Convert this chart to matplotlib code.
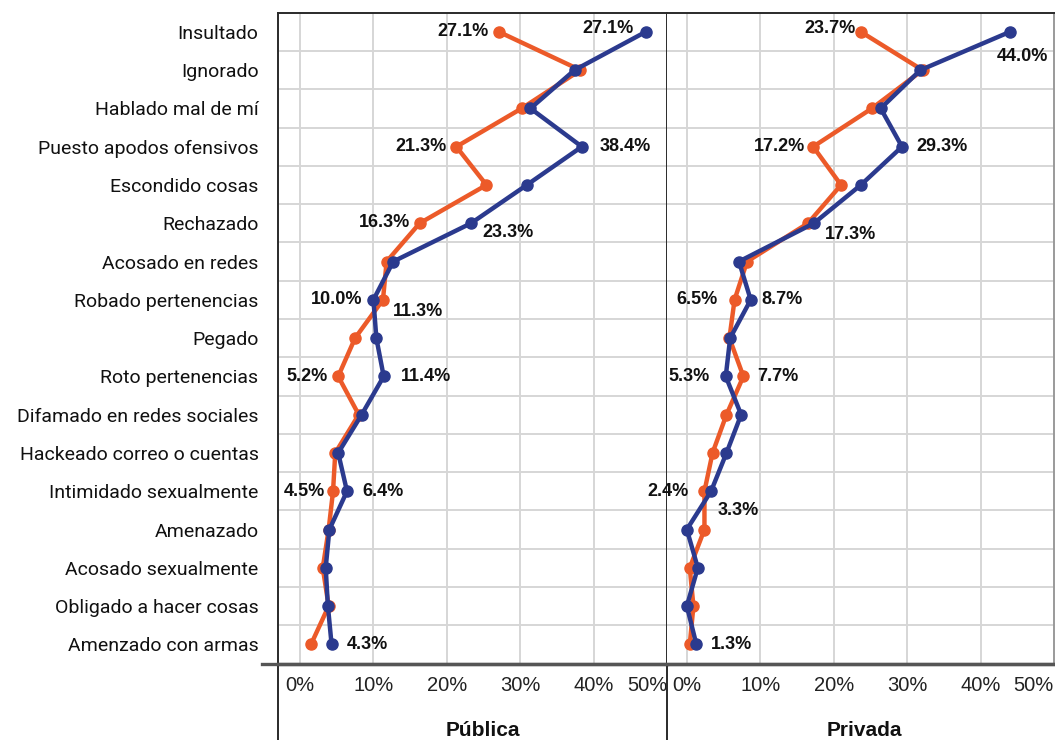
import matplotlib.pyplot as plt
from matplotlib.lines import Line2D


# Data (percent)
#--------------------------------------------------------------------------------

categories = [
    "Insultado",
    "Ignorado",
    "Hablado mal de mí",
    "Puesto apodos ofensivos",
    "Escondido cosas",
    "Rechazado",
    "Acosado en redes",
    "Robado pertenencias",
    "Pegado",
    "Roto pertenencias",
    "Difamado en redes sociales",
    "Hackeado correo o cuentas",
    "Intimidado sexualmente",
    "Amenazado",
    "Acosado sexualmente",
    "Obligado a hacer cosas",
    "Amenzado con armas",
]

publica_orange = [27.1, 38.2, 30.2, 21.3, 25.4, 16.3, 11.8, 11.3, 7.5,
                  5.2, 8.0, 4.8, 4.5, 3.9, 3.1, 3.9, 1.5]
publica_blue = [47.1, 37.4, 31.4, 38.4, 30.9, 23.3, 12.7, 10.0, 10.4,
                11.4, 8.4, 5.2, 6.4, 4.0, 3.5, 3.8, 4.3]

privada_orange = [23.7, 32.1, 25.2, 17.2, 21.0, 16.5, 8.2, 6.5, 5.8,
                  7.7, 5.4, 3.5, 2.4, 2.4, 0.4, 0.9, 0.4]
privada_blue = [44.0, 31.8, 26.4, 29.3, 23.7, 17.3, 7.1, 8.7, 5.9,
                5.3, 7.4, 5.4, 3.3, 0.0, 1.5, 0.0, 1.3]

panel_titles = ["Pública", "Privada"]

x_ticks = [0, 10, 20, 30, 40, 50]
x_tick_labels = ["0%", "10%", "20%", "30%", "40%", "50%"]

# value labels: (series, row, text)
publica_labels = [
    ("orange", 0, "27.1%"), ("blue", 0, "27.1%"),
    ("orange", 3, "21.3%"), ("blue", 3, "38.4%"),
    ("orange", 5, "16.3%"), ("blue", 5, "23.3%"),
    ("blue", 7, "10.0%"), ("orange", 7, "11.3%"),
    ("orange", 9, "5.2%"), ("blue", 9, "11.4%"),
    ("orange", 12, "4.5%"), ("blue", 12, "6.4%"),
    ("blue", 16, "4.3%"),
]
privada_labels = [
    ("orange", 0, "23.7%"), ("blue", 0, "44.0%"),
    ("orange", 3, "17.2%"), ("blue", 3, "29.3%"),
    ("blue", 5, "17.3%"),
    ("orange", 7, "6.5%"), ("blue", 7, "8.7%"),
    ("blue", 9, "5.3%"), ("orange", 9, "7.7%"),
    ("orange", 12, "2.4%"), ("blue", 12, "3.3%"),
    ("blue", 16, "1.3%"),
]

# label placement in pixels: dx, dy (down positive), horizontal alignment
publica_offsets = [
    (-10, 0, "right"), (-12, -3, "right"),
    (-10, 0, "right"), (18, 0, "left"),
    (-10, -1, "right"), (11, 9, "left"),
    (-11, 0, "right"), (10, 12, "left"),
    (-10, 0, "right"), (17, 0, "left"),
    (-8, 0, "right"), (15, 0, "left"),
    (15, 0, "left"),
]
privada_offsets = [
    (-5, -3, "right"), (12, 25, "center"),
    (-8, 0, "right"), (14, 0, "left"),
    (11, 11, "left"),
    (-17, 0, "right"), (11, 0, "left"),
    (-16, 0, "right"), (14, 0, "left"),
    (-16, 0, "right"), (7, 19, "left"),
    (15, 0, "left"),
]

ORANGE = "#EC5A29"
BLUE = "#2B3A8E"
GRID = "#D6D6D6"
DARK = "#2A2A2A"

plain_font = ["Roboto", "DejaVu Sans"]
tick_font = ["Liberation Sans", "DejaVu Sans"]
label_font = ["Liberation Sans", "DejaVu Sans"]


# Figure and axes
#--------------------------------------------------------------------------------

W, H = 1055, 740

fig = plt.figure(figsize=(W / 100, H / 100), dpi=100)

ax_top = 12.7
ax_bottom = 663.5

left_box = (278, 667)
right_box = (667, 1054)

axes = []

for x0, x1 in [left_box, right_box]:

    ax = fig.add_axes([
        x0 / W,
        (H - ax_bottom) / H,
        (x1 - x0) / W,
        (ax_bottom - ax_top) / H
    ])

    axes.append(ax)

axes[0].set_xlim(-3.0, 50)
axes[1].set_xlim(-2.7, 50)

rows = list(range(len(categories)))

panels = [
    (publica_orange, publica_blue, publica_labels, publica_offsets),
    (privada_orange, privada_blue, privada_labels, privada_offsets),
]

for p, (ax, (orange, blue, labels, offsets)) in enumerate(zip(axes, panels)):

    ax.set_ylim(len(categories) - 0.5, -0.5)

    # ----------------------------------------
    # Grid
    # ----------------------------------------

    for r in rows[:-1]:
        ax.axhline(r + 0.5, color=GRID, linewidth=1.4, zorder=0)

    for t in x_ticks[:-1]:
        ax.axvline(t, color=GRID, linewidth=1.4, zorder=0)

    # ----------------------------------------
    # Lines
    # ----------------------------------------

    ax.plot(
        orange,
        rows,
        color=ORANGE,
        linewidth=3.2,
        marker="o",
        markersize=8,
        zorder=3,
        clip_on=False
    )

    ax.plot(
        blue,
        rows,
        color=BLUE,
        linewidth=3.2,
        marker="o",
        markersize=8,
        zorder=4,
        clip_on=False
    )

    # ----------------------------------------
    # Value labels
    # ----------------------------------------

    series = {"orange": orange, "blue": blue}

    for (name, row, text), (dx, dy, ha) in zip(labels, offsets):

        ax.annotate(
            text,
            xy=(series[name][row], row),
            xytext=(dx, -dy),
            textcoords="offset pixels",
            ha=ha,
            va="center",
            fontsize=13,
            fontweight="bold",
            family=label_font,
            color="#111111",
            zorder=6,
            annotation_clip=False
        )

    # ----------------------------------------
    # Axes formatting
    # ----------------------------------------

    ax.set_xticks(x_ticks)
    ax.set_xticklabels(x_tick_labels, family=tick_font, fontsize=14.5,
                       color="#222222")
    ax.get_xticklabels()[-1].set_ha("right")
    ax.tick_params(axis="x", length=0, pad=9)

    ax.set_yticks(rows)

    if p == 0:
        ax.set_yticklabels(categories, family=plain_font, fontsize=14,
                           color="#111111")
        ax.tick_params(axis="y", length=0, pad=14)
    else:
        ax.set_yticklabels([])
        ax.tick_params(axis="y", length=0)

    for side in ["top", "left", "right"]:
        ax.spines[side].set_color(DARK)
        ax.spines[side].set_linewidth(1.4)

    ax.spines["bottom"].set_color("#555555")
    ax.spines["bottom"].set_linewidth(2.4)

axes[1].spines["right"].set_color("#9A9A9A")
axes[1].spines["left"].set_visible(False)


# Table-like frame below the panels
#--------------------------------------------------------------------------------

for x in [left_box[0], left_box[1]]:

    fig.add_artist(Line2D(
        [x / W, x / W],
        [0, (H - ax_bottom) / H],
        transform=fig.transFigure,
        color=DARK,
        linewidth=1.4
    ))

fig.add_artist(Line2D(
    [262 / W, 1],
    [(H - ax_bottom) / H, (H - ax_bottom) / H],
    transform=fig.transFigure,
    color="#555555",
    linewidth=2.4
))

for title, cx in zip(panel_titles, [483, 864]):

    fig.text(
        cx / W,
        (H - 730) / H,
        title,
        ha="center",
        va="center",
        fontsize=15,
        fontweight="bold",
        family=tick_font,
        color="#111111"
    )

plt.savefig("out.png", dpi=100)

plt.close()
